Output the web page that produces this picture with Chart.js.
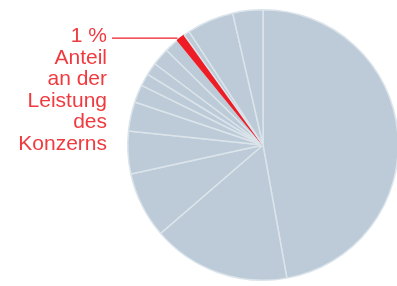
<!DOCTYPE html>
<html>
<head>
<meta charset="utf-8">
<script src="https://cdn.jsdelivr.net/npm/chart.js@4.4.1/dist/chart.umd.min.js"></script>
<style>
  html, body { margin: 0; padding: 0; background: #fff; overflow: hidden; width: 397px; height: 286px; }
  #wrap { position: relative; width: 397px; height: 286px; }
  #c { position: absolute; left: 0; top: 0; }
  #label {
    position: absolute; right: 290px; top: 24px;
    font-family: "Liberation Sans", Arial, Helvetica, sans-serif;
    font-size: 21px; line-height: 21.6px; color: #ef3a3f; text-align: right;
  }
</style>
</head>
<body>
<div id="wrap">
  <canvas id="c" width="400" height="286"></canvas>
  <div id="label">1 %<br>Anteil<br>an der<br>Leistung<br>des<br>Konzerns</div>
</div>
<script>
// Segment labels (clockwise from 12 o'clock) and shares in percent
const segments = ["S1","S2","S3","S4","S5","S6","S7","S8","S9","S10","Highlight","S12","S13","S14"];
const shares   = [47.2, 16.5, 7.9, 5.1, 3.5, 2.1, 1.5, 1.5, 2.1, 1.75, 1.0, 0.7, 5.6, 3.6];
const highlightIndex = 10;

const grey = "#bccbd7";
const red = "#ee1c25";
const colors = shares.map((v, i) => i === highlightIndex ? red : grey);
const borders = shares.map((v, i) => i === highlightIndex ? red : "#dbe4eb");

const leaderLine = {
  id: "leaderLine",
  afterDatasetsDraw(chart) {
    const arc = chart.getDatasetMeta(0).data[highlightIndex];
    const { x, y, startAngle, outerRadius } = arc.getProps(["x","y","startAngle","outerRadius"], true);
    const px = x + Math.cos(startAngle) * outerRadius;
    const py = y + Math.sin(startAngle) * outerRadius;
    const ctx = chart.ctx;
    ctx.save();
    ctx.strokeStyle = red;
    ctx.lineWidth = 1.2;
    ctx.beginPath();
    ctx.moveTo(112, py - 2);
    ctx.lineTo(px, py - 2);
    ctx.stroke();
    ctx.restore();
  }
};

new Chart(document.getElementById("c"), {
  type: "pie",
  data: {
    labels: segments,
    datasets: [{
      data: shares,
      backgroundColor: colors,
      borderColor: borders,
      borderWidth: 1.5
    }]
  },
  options: {
    responsive: false,
    animation: false,
    layout: { padding: { left: 127, right: 1, top: 9, bottom: 5 } },
    plugins: { legend: { display: false }, tooltip: { enabled: false } }
  },
  plugins: [leaderLine]
});
</script>
</body>
</html>
